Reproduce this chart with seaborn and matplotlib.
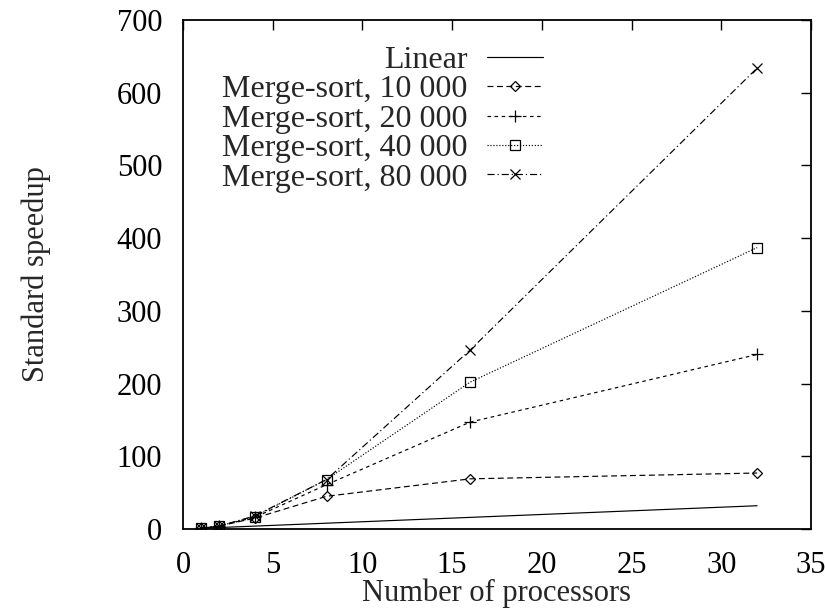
import matplotlib
matplotlib.use("Agg")
import matplotlib.pyplot as plt
import seaborn as sns
import pandas as pd

# Processor counts and measured speedups
processors = [1, 2, 4, 8, 16, 32]
linear = [1, 2, 4, 8, 16, 32]
ms_10000 = [1, 4, 15, 45, 69, 77]
ms_20000 = [1, 4, 16, 61, 147, 240]
ms_40000 = [1, 4, 17, 68, 202, 387]
ms_80000 = [1, 4, 18, 68, 246, 634]

series_names = ["Linear", "Merge-sort, 10 000", "Merge-sort, 20 000",
                "Merge-sort, 40 000", "Merge-sort, 80 000"]
series_values = [linear, ms_10000, ms_20000, ms_40000, ms_80000]

x_ticks = [0, 5, 10, 15, 20, 25, 30, 35]
y_ticks = [0, 100, 200, 300, 400, 500, 600, 700]

sns.set_theme(style="white")
plt.rcParams["font.family"] = ["Liberation Serif", "DejaVu Serif"]

styles = {
    "Linear": dict(marker=None, dashes=None, ms=0),
    "Merge-sort, 10 000": dict(marker="D", dashes=(5, 3), ms=5.5),
    "Merge-sort, 20 000": dict(marker="+", dashes=(3, 3), ms=8),
    "Merge-sort, 40 000": dict(marker="s", dashes=(1, 1.5), ms=7.5),
    "Merge-sort, 80 000": dict(marker="x", dashes=(6, 2.5, 1, 2.5), ms=7),
}

fig = plt.figure(figsize=(8.25, 6.12), dpi=100)
ax = fig.add_axes([0.2218, 0.1356, 0.7612, 0.8317])

for name, vals in zip(series_names, series_values):
    df = pd.DataFrame({"p": processors, "s": vals})
    st = styles[name]
    kw = dict(color="black", linewidth=0.85, label=name)
    if st["marker"] is not None:
        kw.update(marker=st["marker"], markersize=st["ms"],
                  markerfacecolor="none", markeredgecolor="black",
                  markeredgewidth=0.9)
    line = sns.lineplot(data=df, x="p", y="s", ax=ax, **kw).lines[-1]
    if st["dashes"] is not None:
        line.set_dashes(st["dashes"])

ax.set_xlim(0, 35)
ax.set_ylim(0, 700)
ax.set_xticks(x_ticks)
ax.set_yticks(y_ticks)
ax.tick_params(direction="in", length=7, width=1, top=True, right=True,
               labelsize=22, colors="black")
ax.tick_params(axis="y", pad=15)
ax.tick_params(axis="x", pad=16)
for sp in ax.spines.values():
    sp.set_color("black")
    sp.set_linewidth(1.3)

ax.set_xlabel("Number of processors", fontsize=22, labelpad=-1)
ax.set_ylabel("Standard speedup", fontsize=22, labelpad=47)

leg = ax.legend(loc="upper right", bbox_to_anchor=(0.594, 0.9745),
                frameon=False, markerfirst=False, fontsize=23,
                handlelength=1.75, handletextpad=0.63, labelspacing=0.0,
                numpoints=1, borderaxespad=0.0)
for t in leg.get_texts():
    t.set_ha("right")

fig.savefig("out.png", dpi=100, facecolor="white")
